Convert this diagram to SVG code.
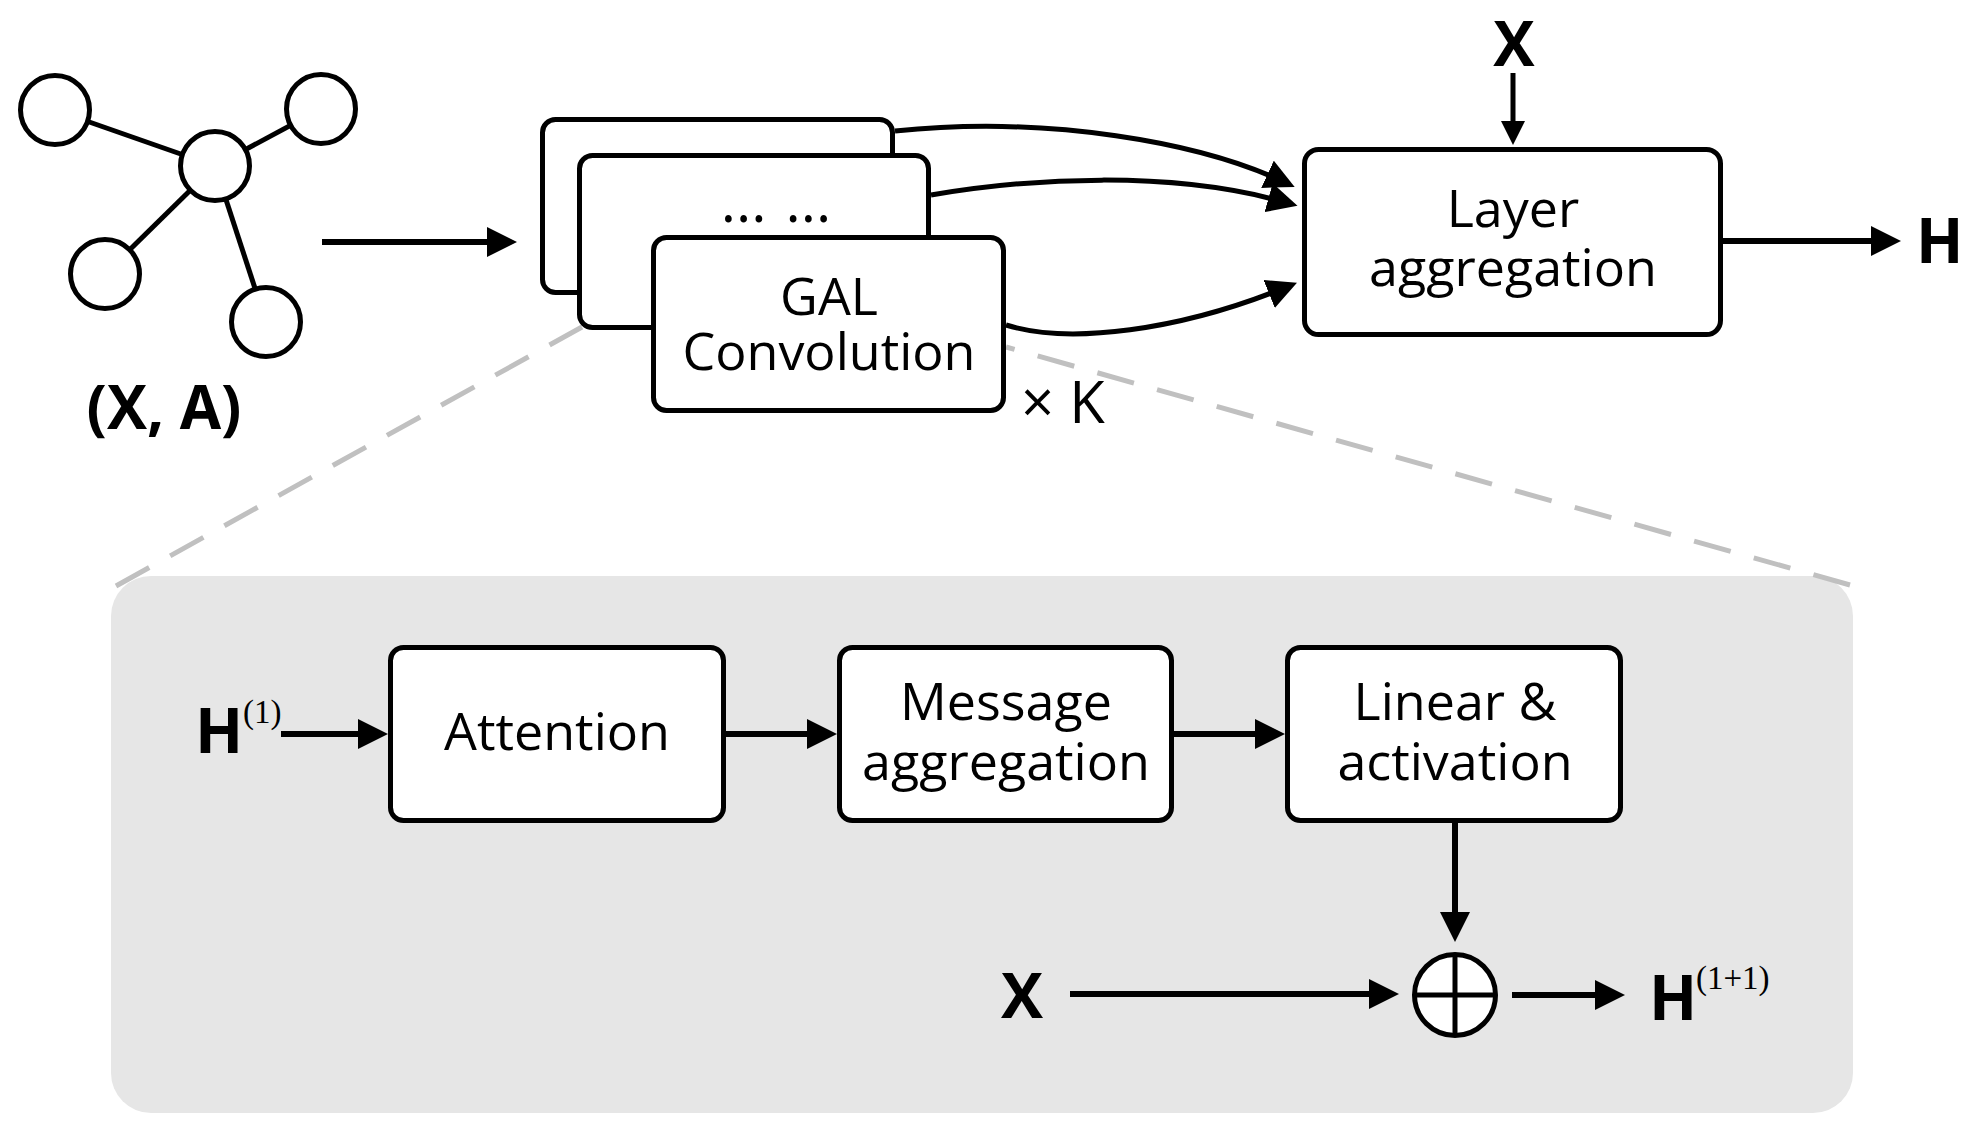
<svg xmlns="http://www.w3.org/2000/svg" width="1973" height="1131" viewBox="0 0 1973 1131">
<defs>
<marker id="arr" markerUnits="userSpaceOnUse" markerWidth="30" markerHeight="30" viewBox="0 0 30 30" refX="16" refY="15" orient="auto"><path d="M0,0 L30,15 L0,30 Z" fill="#000"/></marker>
<marker id="arrs" markerUnits="userSpaceOnUse" markerWidth="24" markerHeight="24" viewBox="0 0 24 24" refX="12" refY="12" orient="auto"><path d="M0,0 L24,12 L0,24 Z" fill="#000"/></marker>
<style>
.box{fill:#fff;stroke:#000;stroke-width:5}
.node{fill:#fff;stroke:#000;stroke-width:5}
.edge{stroke:#000;stroke-width:5;fill:none}
.ln{stroke:#000;stroke-width:6;fill:none;marker-end:url(#arr)}
.cv{stroke:#000;stroke-width:5;fill:none;marker-end:url(#arr)}
.dash{stroke:#c0c0c0;stroke-width:5;stroke-dasharray:38 24;fill:none}
.t{font-family:"Open Sans","Noto Sans","DejaVu Sans",sans-serif;font-size:52px;fill:#000;text-anchor:middle}
.dots{font-family:"Open Sans","Noto Sans","DejaVu Sans",sans-serif;font-size:58px;fill:#000;text-anchor:middle;word-spacing:4px}
.k{font-family:"Open Sans","Noto Sans","DejaVu Sans",sans-serif;font-size:58px;fill:#000}
.b{font-family:"Open Sans","Noto Sans","DejaVu Sans",sans-serif;font-weight:700;fill:#000}
.sup{font-family:"Liberation Serif","DejaVu Serif",serif;font-size:33px;fill:#000}
</style>
</defs>
<rect width="1973" height="1131" fill="#fff"/>

<g id="panel">
<rect x="111" y="576" width="1742" height="537" rx="40" ry="40" fill="#e6e6e6"/>
</g>
<g id="zoom-lines">
<line class="dash" x1="116" y1="586" x2="582" y2="327"/>
<line class="dash" x1="1850" y1="585" x2="1006" y2="347"/>
</g>

<g id="graph">
<line class="edge" x1="55" y1="110" x2="215" y2="166"/>
<line class="edge" x1="321" y1="109" x2="215" y2="166"/>
<line class="edge" x1="105" y1="274" x2="215" y2="166"/>
<line class="edge" x1="266" y1="322" x2="215" y2="166"/>
<circle class="node" cx="55" cy="110" r="34.5"/>
<circle class="node" cx="321" cy="109" r="34.5"/>
<circle class="node" cx="215" cy="166" r="34.5"/>
<circle class="node" cx="105" cy="274" r="34.5"/>
<circle class="node" cx="266" cy="322" r="34.5"/>
<text class="b" x="164" y="429" font-size="60" text-anchor="middle">(X, A)</text>
</g>

<g id="gal-back"><rect class="box" x="542.5" y="119.5" width="350" height="173" rx="13"/></g>
<g id="gal-middle"><rect class="box" x="579.5" y="155.5" width="349" height="172" rx="13"/>
<text class="dots" x="776" y="222">... ...</text></g>
<g id="gal-front"><rect class="box" x="653.5" y="237.5" width="350" height="173" rx="13"/>
<text class="t" x="829" y="315">GAL</text>
<text class="t" x="829" y="370">Convolution</text></g>
<text class="k" x="1021" y="423">× K</text>

<g id="layer-agg"><rect class="box" x="1304.5" y="149.5" width="416" height="185" rx="14"/>
<text class="t" x="1513" y="227">Layer</text>
<text class="t" x="1513" y="286">aggregation</text></g>
<text class="b" x="1514" y="66" font-size="62" text-anchor="middle">X</text>
<text class="b" x="1916" y="263" font-size="62">H</text>

<g id="attention"><rect class="box" x="390.5" y="647.5" width="333" height="173" rx="13"/>
<text class="t" x="557" y="750">Attention</text></g>
<g id="message"><rect class="box" x="839.5" y="647.5" width="332" height="173" rx="13"/>
<text class="t" x="1006" y="720">Message</text>
<text class="t" x="1006" y="780">aggregation</text></g>
<g id="linear"><rect class="box" x="1287.5" y="647.5" width="333" height="173" rx="13"/>
<text class="t" x="1455" y="720">Linear &amp;</text>
<text class="t" x="1455" y="780">activation</text></g>
<g id="sum">
<circle cx="1455" cy="995" r="40.5" fill="#fff" stroke="#000" stroke-width="5"/>
<line x1="1455" y1="954" x2="1455" y2="1036" stroke="#000" stroke-width="5"/>
<line x1="1414" y1="995" x2="1496" y2="995" stroke="#000" stroke-width="5"/>
</g>
<g id="labels">
<text class="b" x="195" y="753" font-size="63">H</text>
<text class="sup" x="243" y="723">(1)</text>
<text class="b" x="1022" y="1018" font-size="63" text-anchor="middle">X</text>
<text class="b" x="1649" y="1020" font-size="63">H</text>
<text class="sup" x="1696" y="989">(1+1)</text>
</g>

<g id="connectors">
<path class="ln" d="M322,242 H503"/>
<path class="cv" d="M895,131 C1050,115 1200,143 1282,181"/>
<path class="cv" d="M931,195 C1030,178 1170,170 1284,202"/>
<path class="cv" d="M1006,325 C1070,345 1180,330 1284,288"/>
<path d="M1513,73 V133" stroke="#000" stroke-width="5" fill="none" marker-end="url(#arrs)"/>
<path class="ln" d="M1723,241 H1887"/>
<path class="ln" d="M281,734 H374"/>
<path class="ln" d="M726,734 H823"/>
<path class="ln" d="M1174,734 H1271"/>
<path class="ln" d="M1455,823 V928"/>
<path class="ln" d="M1070,994 H1385"/>
<path class="ln" d="M1512,995 H1611"/>
</g>
</svg>
